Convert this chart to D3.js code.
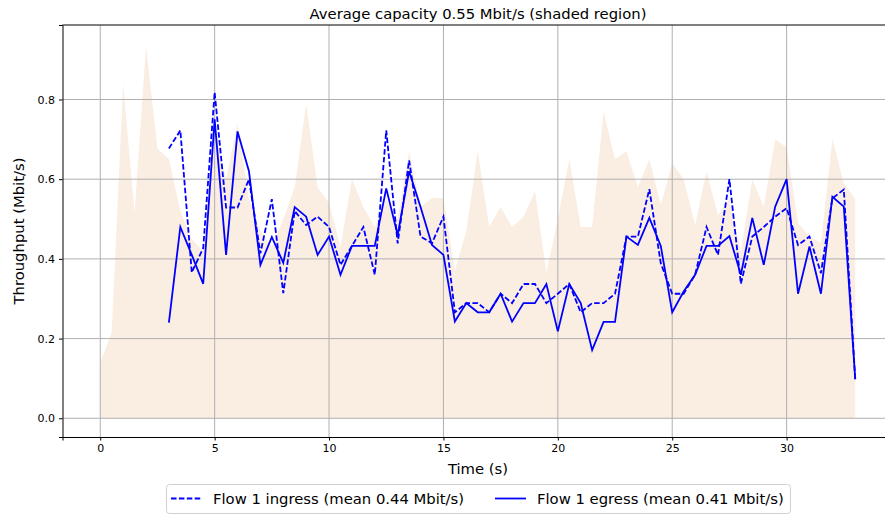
<!DOCTYPE html>
<html>
<head>
<meta charset="utf-8">
<script src="https://cdn.jsdelivr.net/npm/d3@7"></script>
<style>
  body { margin: 0; background: #fff; }
  text { font-family: "DejaVu Sans", sans-serif; }
</style>
</head>
<body>
<div id="chart"></div>
<script>
// chart data
var capTimes = [0, 0.5, 1, 1.5, 2, 2.5, 3, 3.5, 4, 4.5, 5, 5.5, 6, 6.5, 7, 7.5, 8, 8.5, 9, 9.5,
  10, 10.5, 11, 11.5, 12, 12.5, 13, 13.5, 14, 14.5, 15, 15.5, 16, 16.5, 17, 17.5, 18, 18.5, 19, 19.5,
  20, 20.5, 21, 21.5, 22, 22.5, 23, 23.5, 24, 24.5, 25, 25.5, 26, 26.5, 27, 27.5, 28, 28.5, 29, 29.5,
  30, 30.5, 31, 31.5, 32, 32.5, 33];
var capacity = [0.14, 0.215, 0.84, 0.515, 0.935, 0.677, 0.65, 0.52, 0.45, 0.42, 0.72, 0.6, 0.74, 0.55, 0.47, 0.43, 0.5, 0.58, 0.79, 0.58,
  0.54, 0.43, 0.6, 0.53, 0.48, 0.55, 0.5, 0.67, 0.53, 0.553, 0.553, 0.37, 0.47, 0.67, 0.48, 0.53, 0.48, 0.506, 0.57, 0.365,
  0.5, 0.65, 0.48, 0.48, 0.77, 0.65, 0.67, 0.58, 0.65, 0.535, 0.64, 0.6, 0.485, 0.62, 0.51, 0.55, 0.42, 0.6, 0.53, 0.7,
  0.68, 0.49, 0.456, 0.44, 0.7, 0.59, 0.55];

var flowTimes = [3, 3.5, 4, 4.5, 5, 5.5, 6, 6.5, 7, 7.5, 8, 8.5, 9, 9.5,
  10, 10.5, 11, 11.5, 12, 12.5, 13, 13.5, 14, 14.5, 15, 15.5, 16, 16.5, 17, 17.5, 18, 18.5, 19, 19.5,
  20, 20.5, 21, 21.5, 22, 22.5, 23, 23.5, 24, 24.5, 25, 25.5, 26, 26.5, 27, 27.5, 28, 28.5, 29, 29.5,
  30, 30.5, 31, 31.5, 32, 32.5, 33];
var ingress = [0.677, 0.7225, 0.366, 0.427, 0.818, 0.529, 0.529, 0.6, 0.414, 0.55, 0.314, 0.52, 0.485, 0.506,
  0.48, 0.385, 0.4325, 0.48, 0.36, 0.7225, 0.439, 0.6475, 0.456, 0.439, 0.506, 0.266, 0.289, 0.289, 0.266, 0.3125, 0.289, 0.337, 0.337, 0.289,
  0.3125, 0.337, 0.266, 0.289, 0.289, 0.3125, 0.456, 0.456, 0.575, 0.389, 0.3125, 0.3125, 0.36, 0.48, 0.41, 0.6, 0.3375, 0.456, 0.48, 0.506,
  0.527, 0.435, 0.456, 0.364, 0.552, 0.574, 0.0975];
var egress = [0.24, 0.48, 0.41, 0.3375, 0.75, 0.41, 0.72, 0.62, 0.385, 0.455, 0.39, 0.53, 0.506, 0.41,
  0.456, 0.36, 0.4325, 0.4325, 0.4325, 0.577, 0.46, 0.62, 0.53, 0.435, 0.41, 0.243, 0.289, 0.266, 0.266, 0.3125, 0.2425, 0.289, 0.289, 0.337,
  0.218, 0.337, 0.289, 0.171, 0.242, 0.242, 0.456, 0.435, 0.503, 0.4325, 0.266, 0.318, 0.36, 0.4325, 0.4325, 0.4575, 0.36, 0.503, 0.385, 0.531,
  0.6, 0.3125, 0.431, 0.3125, 0.556, 0.531, 0.0975];

var xTicks = [0, 5, 10, 15, 20, 25, 30];
var yTicks = [0.0, 0.2, 0.4, 0.6, 0.8];
var titleText = "Average capacity 0.55 Mbit/s (shaded region)";
var legendLabels = ["Flow 1 ingress (mean 0.44 Mbit/s)", "Flow 1 egress (mean 0.41 Mbit/s)"];

var svgWidth = 885;
var svgHeight = 516;
var margin = {top: 25, left: 62.5, right: -8, bottom: 79};
var width = svgWidth - margin.left - margin.right;
var height = svgHeight - margin.top - margin.bottom;
var labelSize = 14.8;

var svg = d3.select("#chart")
  .append("svg")
  .attr("width", svgWidth)
  .attr("height", svgHeight);

var g = svg.append("g")
  .attr("transform", "translate(" + margin.left + "," + margin.top + ")");

var xScale = d3.scaleLinear().domain([-1.65, 34.65]).range([0, width]);
var yScale = d3.scaleLinear().domain([-0.047, 0.987]).range([height, 0]);

g.append("clipPath").attr("id", "clip")
  .append("rect").attr("width", width).attr("height", height);

var plot = g.append("g").attr("clip-path", "url(#clip)");

// shaded capacity
var capData = capTimes.map((t, i) => ({t: t, v: capacity[i]}));
plot.append("path")
  .attr("fill", "#faede2")
  .attr("d", d3.area().x(d => xScale(d.t)).y0(yScale(0)).y1(d => yScale(d.v))(capData));

// grid
plot.selectAll(".gx").data(xTicks).enter().append("line")
  .attr("x1", d => xScale(d)).attr("x2", d => xScale(d))
  .attr("y1", 0).attr("y2", height)
  .attr("stroke", "#b0b0b0").attr("stroke-width", 1);
plot.selectAll(".gy").data(yTicks).enter().append("line")
  .attr("y1", d => yScale(d)).attr("y2", d => yScale(d))
  .attr("x1", 0).attr("x2", width)
  .attr("stroke", "#b0b0b0").attr("stroke-width", 1);

var line = d3.line().x(d => xScale(d.t)).y(d => yScale(d.v));
var inData = flowTimes.map((t, i) => ({t: t, v: ingress[i]}));
var egData = flowTimes.map((t, i) => ({t: t, v: egress[i]}));

plot.append("path")
  .attr("fill", "none").attr("stroke", "#0000ff").attr("stroke-width", 1.8)
  .attr("stroke-dasharray", "5.5,2.4")
  .attr("d", line(inData));
plot.append("path")
  .attr("fill", "none").attr("stroke", "#0000ff").attr("stroke-width", 1.8)
  .attr("d", line(egData));

// axes
var xAxis = g.append("g")
  .attr("transform", "translate(0," + height + ")")
  .call(d3.axisBottom(xScale).tickValues(xTicks).tickFormat(d3.format("d")).tickSize(3.5).tickPadding(4));
var yAxis = g.append("g")
  .call(d3.axisLeft(yScale).tickValues(yTicks).tickFormat(d3.format(".1f")).tickSize(3.5).tickPadding(4));
[xAxis, yAxis].forEach(function(a) {
  a.select(".domain").attr("stroke", "#000").attr("stroke-width", 1);
  a.selectAll("text").attr("font-size", 11).attr("fill", "#000").style("font-family", "DejaVu Sans");
});
// top border
g.append("line").attr("x1", 0).attr("x2", width).attr("y1", 0).attr("y2", 0)
  .attr("stroke", "#000").attr("stroke-width", 1);

// labels
svg.append("text")
  .attr("x", 478).attr("y", 19)
  .attr("text-anchor", "middle").attr("font-size", labelSize)
  .text(titleText);
svg.append("text")
  .attr("x", 478).attr("y", 474)
  .attr("text-anchor", "middle").attr("font-size", labelSize)
  .text("Time (s)");
svg.append("text")
  .attr("transform", "translate(23.5," + (margin.top + height / 2) + ") rotate(-90)")
  .attr("text-anchor", "middle").attr("font-size", labelSize)
  .text("Throughput (Mbit/s)");

// legend
var leg = svg.append("g");
leg.append("rect")
  .attr("x", 166.5).attr("y", 484.5).attr("width", 624).attr("height", 29).attr("rx", 3)
  .attr("fill", "#fff").attr("stroke", "#d0d0d0");
leg.append("line").attr("x1", 171).attr("x2", 201).attr("y1", 498.5).attr("y2", 498.5)
  .attr("stroke", "#0000ff").attr("stroke-width", 1.8).attr("stroke-dasharray", "5.5,2.4");
leg.append("text").attr("x", 213).attr("y", 504).attr("font-size", labelSize).text(legendLabels[0]);
leg.append("line").attr("x1", 495).attr("x2", 526).attr("y1", 498.5).attr("y2", 498.5)
  .attr("stroke", "#0000ff").attr("stroke-width", 1.8);
leg.append("text").attr("x", 537).attr("y", 504).attr("font-size", labelSize).text(legendLabels[1]);
</script>
</body>
</html>
